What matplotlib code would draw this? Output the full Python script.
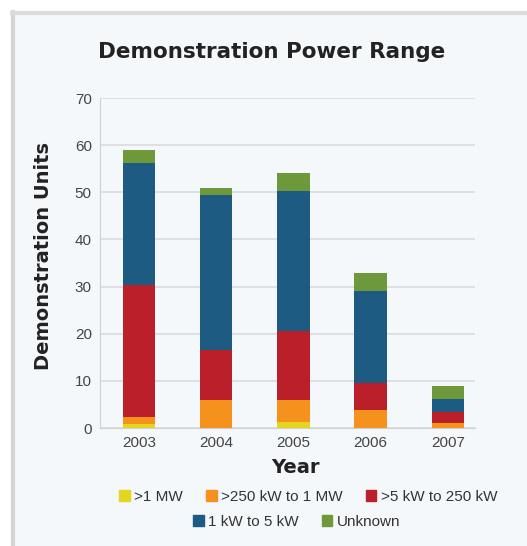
import numpy as np
import matplotlib.pyplot as plt
from matplotlib.patches import Rectangle, Patch

years = ["2003", "2004", "2005", "2006", "2007"]
labels = [">1 MW", ">250 kW to 1 MW", ">5 kW to 250 kW", "1 kW to 5 kW", "Unknown"]
colors = ["#e6d51e", "#f5921e", "#bb1f29", "#1e5b82", "#6e993b"]

over_1mw = [0.8, 0, 1.3, 0, 0]
kw250_1mw = [1.5, 6, 4.6, 3.8, 1.1]
kw5_250 = [28, 10.5, 14.7, 5.7, 2.4]
kw1_5 = [26, 33, 29.6, 19.5, 2.7]
unknown = [2.7, 1.5, 3.8, 3.9, 2.7]

series = [over_1mw, kw250_1mw, kw5_250, kw1_5, unknown]

fig = plt.figure(figsize=(5.27, 5.46), dpi=100)
fig.patch.set_facecolor("white")

# light panel behind the chart
fig.patches.append(Rectangle((12 / 527, 0), 1, 1 - 13 / 546, transform=fig.transFigure,
                             facecolor="#f5f8fb", edgecolor="none", zorder=-2))
fig.add_artist(plt.Line2D([13 / 527, 13 / 527], [0, 1 - 12 / 546], transform=fig.transFigure,
                          color="#d5d5d5", lw=3))
fig.add_artist(plt.Line2D([12 / 527, 1], [1 - 13 / 546, 1 - 13 / 546], transform=fig.transFigure,
                          color="#dcdcdc", lw=3))

ax = fig.add_axes([0.19, 0.216, 0.711, 0.6045])
ax.set_facecolor("none")

x = np.arange(len(years))
bottom = np.zeros(len(years))
for vals, lab, col in zip(series, labels, colors):
    ax.bar(x, vals, width=0.42, bottom=bottom, color=col, label=lab, zorder=3)
    bottom += np.array(vals)

ax.set_xlim(-0.505, 4.35)
ax.set_ylim(0, 70)
ax.set_yticks(range(0, 71, 10))
ax.set_xticks(x)
ax.set_xticklabels(years)
ax.grid(axis="y", color="#d9dbdf", lw=1.2, zorder=0)
for s in ["top", "right"]:
    ax.spines[s].set_visible(False)
ax.spines["left"].set_color("#d0d0d0")
ax.spines["bottom"].set_color("#d0d0d0")
ax.tick_params(length=0, labelsize=11, labelcolor="#444444", pad=6)
for t in ax.get_xticklabels() + ax.get_yticklabels():
    t.set_family("Liberation Sans")

ax.set_ylabel("Demonstration Units", fontsize=14, fontweight="bold", color="#222222")
ax.yaxis.set_label_coords(-0.127, 0.52)
ax.set_xlabel("Year", fontsize=14, fontweight="bold", color="#222222")
ax.xaxis.set_label_coords(0.52, -0.092)
fig.text(0.515, 0.905, "Demonstration Power Range", ha="center", va="center",
         fontsize=15.5, fontweight="bold", color="#222222")

h1 = [Patch(color=c) for c in colors[:3]]
h2 = [Patch(color=c) for c in colors[3:]]
kw = dict(frameon=False, handlelength=0.7, handleheight=0.7, handletextpad=0.3,
          columnspacing=1.5, prop={"family": "Liberation Sans", "size": 11}, labelcolor="#333333")
fig.legend(h1, labels[:3], ncol=3, loc="center", bbox_to_anchor=(0.585, 0.09), **kw)
fig.legend(h2, labels[3:], ncol=2, loc="center", bbox_to_anchor=(0.563, 0.044), **kw)

fig.savefig("out.png", dpi=100, facecolor="white")
